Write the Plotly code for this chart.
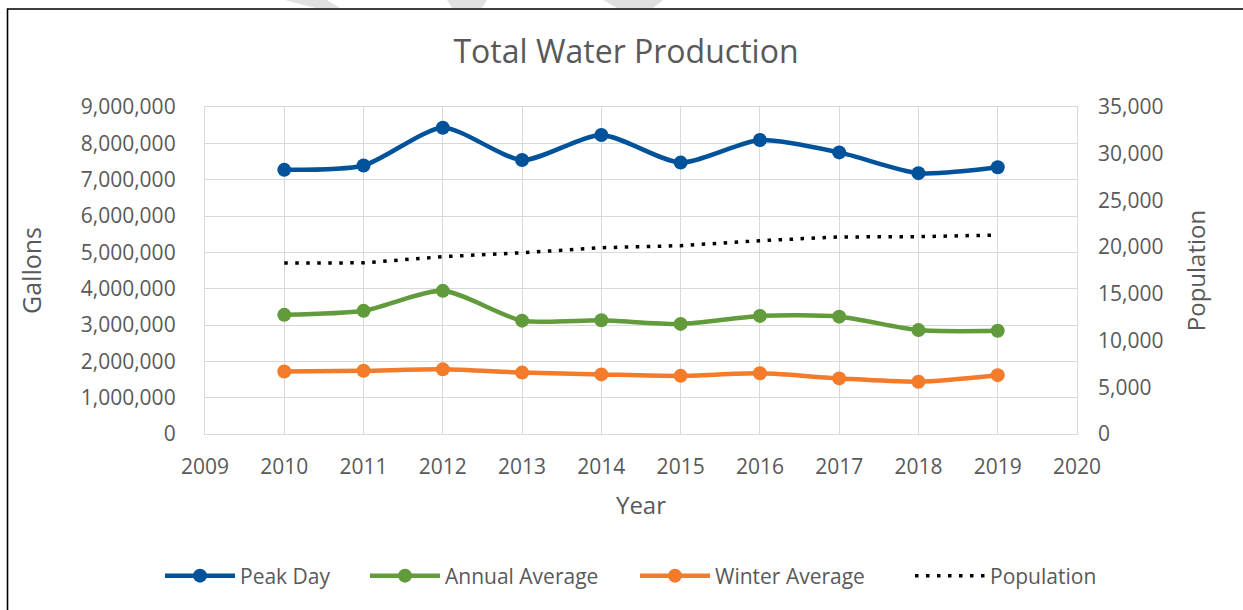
# -*- coding: utf-8 -*-
"""Total Water Production chart (gallons + population on secondary axis)"""

import plotly.graph_objects as go
from plotly.subplots import make_subplots

#%% DATA

years = [2010, 2011, 2012, 2013, 2014, 2015, 2016, 2017, 2018, 2019]

peak_day = [7270000, 7390000, 8430000, 7540000, 8230000,
            7470000, 8090000, 7750000, 7180000, 7340000]
annual_avg = [3280000, 3390000, 3940000, 3120000, 3130000,
              3030000, 3250000, 3230000, 2860000, 2840000]
winter_avg = [1720000, 1740000, 1780000, 1690000, 1640000,
              1600000, 1670000, 1530000, 1440000, 1620000]
population = [18300, 18320, 18980, 19400, 19940,
              20160, 20690, 21090, 21120, 21300]

x_ticks = list(range(2009, 2021))

#%% SETTINGS

txt_col = "#595959"
grid_col = "#d9d9d9"
font_fam = "Open Sans, Segoe UI, sans-serif"

W, H = 1243, 610
L, R, T, B = 205, 166, 107, 176  # plot area margins in px


def px_to_paper(px, py):
    # converts pixel position of the page into paper coordinates
    return (px - L) / (W - L - R), (H - B - py) / (H - T - B)


#%% FIGURE

fig = make_subplots(specs=[[{"secondary_y": True}]])

series = [
    ("Peak Day", peak_day, "#00539b", "legend"),
    ("Annual Average", annual_avg, "#629b3c", "legend2"),
    ("Winter Average", winter_avg, "#f47b2a", "legend3"),
]

for name, vals, col, leg in series:
    fig.add_trace(go.Scatter(
        x=years, y=vals, name=name,
        mode="lines+markers",
        line=dict(color=col, width=4.5, shape="spline", smoothing=0.7),
        marker=dict(color=col, size=14),
        legend=leg,
        ),
        secondary_y=False,
    )

fig.add_trace(go.Scatter(
    x=years, y=population, name="Population",
    mode="lines",
    line=dict(color="black", width=3.5, dash="3.5px,7.5px"),
    legend="legend4",
    ),
    secondary_y=True,
)

#%% LAYOUT

# one legend per trace so each entry can sit where it sits in the original
leg_y = px_to_paper(0, 576)[1]
leg_base = dict(orientation="h", y=leg_y, yanchor="middle", xanchor="left",
                font=dict(size=21, color=txt_col), itemwidth=70,
                bgcolor="rgba(0,0,0,0)")

fig.update_layout(
    width=W, height=H,
    margin=dict(l=L, r=R, t=T, b=B, autoexpand=False),
    paper_bgcolor="white",
    plot_bgcolor="white",
    font=dict(family=font_fam, color=txt_col, size=21),
    title=dict(text="Total Water Production", x=626 / W, xref="container",
               xanchor="center", y=1 - 52 / H, yanchor="middle",
               font=dict(size=32, color=txt_col)),
    legend=dict(leg_base, x=px_to_paper(160, 0)[0]),
    legend2=dict(leg_base, x=px_to_paper(365, 0)[0]),
    legend3=dict(leg_base, x=px_to_paper(635, 0)[0]),
    legend4=dict(leg_base, x=px_to_paper(910, 0)[0]),
    showlegend=True,
)

fig.update_xaxes(
    domain=[0, 1],
    range=[2009, 2020], tickvals=x_ticks, ticktext=[str(v) for v in x_ticks],
    showgrid=True, gridcolor=grid_col, gridwidth=1.3,
    showline=True, linecolor=grid_col, linewidth=1.3, mirror=True,
    ticks="", ticklabelstandoff=14,
    tickfont=dict(size=21, color=txt_col),
    title=dict(text="Year", font=dict(size=24, color=txt_col), standoff=17),
    zeroline=False,
)

fig.update_yaxes(
    range=[0, 9000000], dtick=1000000, tickformat=",",
    showgrid=True, gridcolor=grid_col, gridwidth=1.3,
    showline=True, linecolor=grid_col, linewidth=1.3, mirror=True,
    ticks="", ticklabelstandoff=24,
    tickfont=dict(size=21, color=txt_col),
    title=dict(text="Gallons", font=dict(size=25, color=txt_col), standoff=31),
    zeroline=False,
    secondary_y=False,
)

fig.update_yaxes(
    range=[0, 35000], dtick=5000, tickformat=",",
    showgrid=False, showline=False, ticks="", ticklabelstandoff=20,
    tickfont=dict(size=21, color=txt_col),
    title=dict(text="Population", font=dict(size=24, color=txt_col), standoff=25),
    zeroline=False,
    secondary_y=True,
)

# chart border (right and bottom edges run off the page)
x0, y0 = px_to_paper(7.5, 9)
x1, y1 = px_to_paper(1270, 640)
fig.add_shape(type="rect", xref="paper", yref="paper",
              x0=x0, y0=y1, x1=x1, y1=y0,
              line=dict(color="black", width=1.6), layer="below")

# bits of the grey watermark peeking above the border
for pts in [[(285, 0), (327, 0), (340, 8), (315, 8)],
            [(447, 0), (487, 0), (482, 8), (452, 8)],
            [(603, 0), (663, 0), (653, 8), (617, 8)]]:
    p = [px_to_paper(a, b) for a, b in pts]
    path = "M " + " L ".join(f"{a},{b}" for a, b in p) + " Z"
    fig.add_shape(type="path", xref="paper", yref="paper", path=path,
                  fillcolor="#e0e0e0", line=dict(width=0), layer="below")

# page body has a default margin, drop it so the figure sits at 0,0
fig.write_html("out.html", config={"displayModeBar": False},
               post_script="document.body.style.margin='0px';")
